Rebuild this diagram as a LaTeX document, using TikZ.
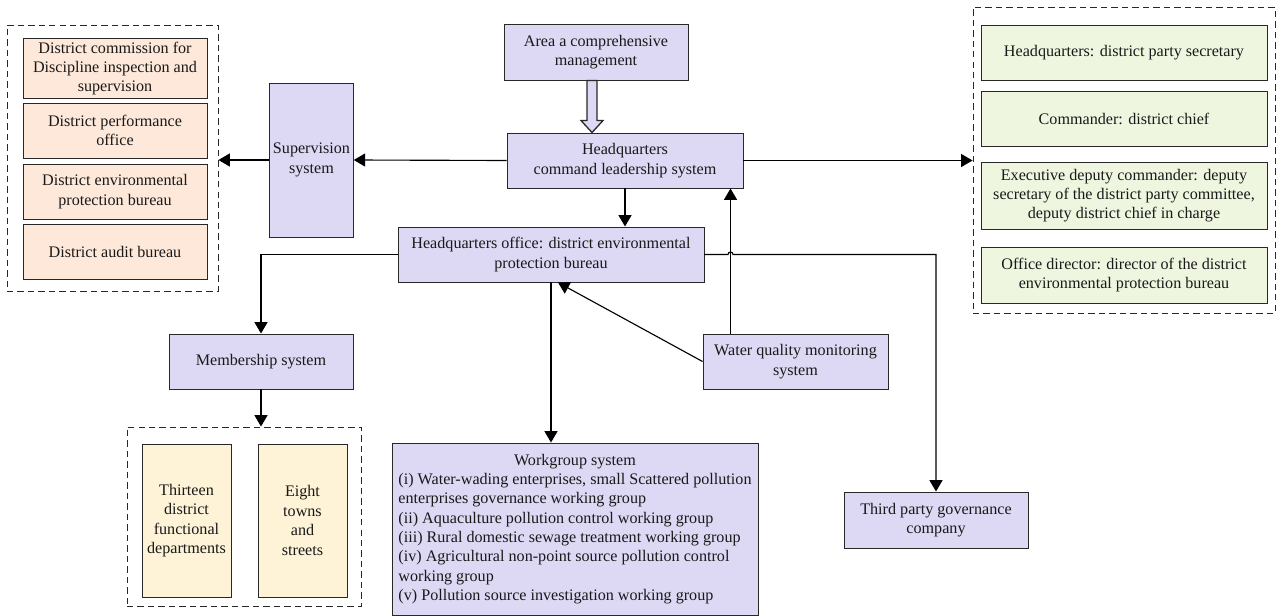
\documentclass[tikz,border=0pt]{standalone}
\usepackage{fontspec}
\setmainfont{Liberation Serif}
\usepackage{xcolor}
\usetikzlibrary{arrows.meta,calc}
\definecolor{lavender}{RGB}{221,216,244}
\definecolor{peach}{RGB}{253,232,218}
\definecolor{paleGreen}{RGB}{239,246,224}
\definecolor{paleYellow}{RGB}{254,243,214}
\definecolor{edge}{RGB}{40,40,40}
\newcommand{\pxu}{0.62pt}
\tikzset{
  boxbase/.style={draw=edge,line width=0.6pt,fill=lavender,inner sep=2pt,text=black!90},
  sysbox/.style={boxbase,align=center},
  orgbox/.style={sysbox,fill=peach},
  dutybox/.style={sysbox,fill=paleGreen},
  unitbox/.style={sysbox,fill=paleYellow},
  groupframe/.style={draw=edge,line width=0.6pt,dash pattern=on 4pt off 2.5pt,inner sep=0pt},
  wh/.style 2 args={minimum width=#1*\pxu,minimum height=#2*\pxu},
  link/.style={line width=0.7pt,-{Triangle[length=7pt,width=8pt]}}
}

\begin{document}
\begin{tikzpicture}[x=0.62pt,y=-0.62pt]
    \useasboundingbox (0,0) rectangle (1276,616);

    % centre column
    \node[sysbox,wh={184}{56}] (area) at (596,52) {Area a comprehensive\\management};
    \node[sysbox,wh={236}{55}] (hqcmd) at (625,160.5) {Headquarters\\command leadership system};
    \node[sysbox,wh={83}{154}] (super) at (311.5,160) {Supervision\\system};
    \node[sysbox,wh={306}{55}] (hqoff) at (551,254.5) {Headquarters office: district environmental\\protection bureau};
    \node[sysbox,wh={184}{55}] (member) at (261,361.5) {Membership system};
    \node[sysbox,wh={185}{55}] (water) at (795.5,361.5) {Water quality monitoring\\system};
    \node[sysbox,wh={184}{56}] (third) at (936,520) {Third party governance\\company};
    \node[boxbase,wh={366}{172}] (wg) at (575,529) {\begin{tabular}{@{}l@{}}
      \multicolumn{1}{@{}c@{}}{Workgroup system}\\
      (i) Water-wading enterprises, small Scattered pollution\\
      enterprises governance working group\\
      (ii) Aquaculture pollution control working group\\
      (iii) Rural domestic sewage treatment working group\\
      (iv) Agricultural non-point source pollution control\\
      working group\\
      (v) Pollution source investigation working group
    \end{tabular}};

    % supervision group
    \node[groupframe,wh={211}{266}] (leftgrp) at (112.5,158) {};
    \foreach \idx/\yc/\hh/\txt in {1/68.5/59/{District commission for\\Discipline inspection and\\supervision},
        2/130.5/55/{District performance\\office},
        3/191.5/55/{District environmental\\protection bureau},
        4/251.5/55/{District audit bureau}} {
      \node[orgbox,wh={184}{\hh}] (org\idx) at (115,\yc) {\txt};
    }

    % leadership group
    \node[groupframe,wh={302}{306}] (rightgrp) at (1124,160) {};
    \foreach \idx/\yc/\hh/\txt in {1/52.5/55/{Headquarters: district party secretary},
        2/118.5/55/{Commander: district chief},
        3/195.5/67/{Executive deputy commander: deputy\\secretary of the district party committee,\\deputy district chief in charge},
        4/275/56/{Office director: director of the district\\environmental protection bureau}} {
      \node[dutybox,wh={286}{\hh}] (duty\idx) at (1124,\yc) {\txt};
    }

    % membership group
    \node[groupframe,wh={234}{179}] (memgrp) at (244,516.5) {};
    \node[unitbox,wh={89}{153}] (unit1) at (186.5,520.5) {Thirteen\\district\\functional\\departments};
    \node[unitbox,wh={89}{153}] (unit2) at (302.5,520.5) {Eight\\towns\\and\\streets};

    % hollow arrow
    \coordinate (ha) at ($(area.south)+(-4,0)$);
    \draw[draw=edge,line width=0.8pt,fill=lavender,line join=miter]
      ($(ha)+(-5,0)$) -- ($(ha |- hqcmd.north)+(-5,-12)$) -- ++(-6,0)
      -- (ha |- hqcmd.north) -- ($(ha |- hqcmd.north)+(11,-12)$) -- ++(-6,0)
      -- ($(ha)+(5,0)$) -- cycle;

    \draw[link] (hqcmd.west) -- (super.east);
    \draw[link] (super.west) -- (super.west -| leftgrp.east);
    \draw[link] (hqcmd.east) -- (hqcmd.east -| rightgrp.west);
    \draw[link] (hqcmd.south) -- (hqcmd.south |- hqoff.north);
    \draw[link] (hqoff.west) -| (member.north);
    \draw[link] (member.south) -- (member.south |- memgrp.north);
    \draw[link] (hqoff.south) -- (hqoff.south |- wg.north);
    \draw[link] (water.west) -- ($(hqoff.south)+(7,0)$);
    \coordinate (wqtop) at ($(water.north west)+(28,0)$);
    \draw[link] (wqtop) -- (wqtop |- hqcmd.south);
    \draw[link] (hqoff.east) -- ($(hqoff.east -| wqtop)+(-2.5,0)$)
      arc[start angle=180,end angle=360,radius=2.5]
      -- (hqoff.east -| third.north) -- (third.north);
\end{tikzpicture}
\end{document}
